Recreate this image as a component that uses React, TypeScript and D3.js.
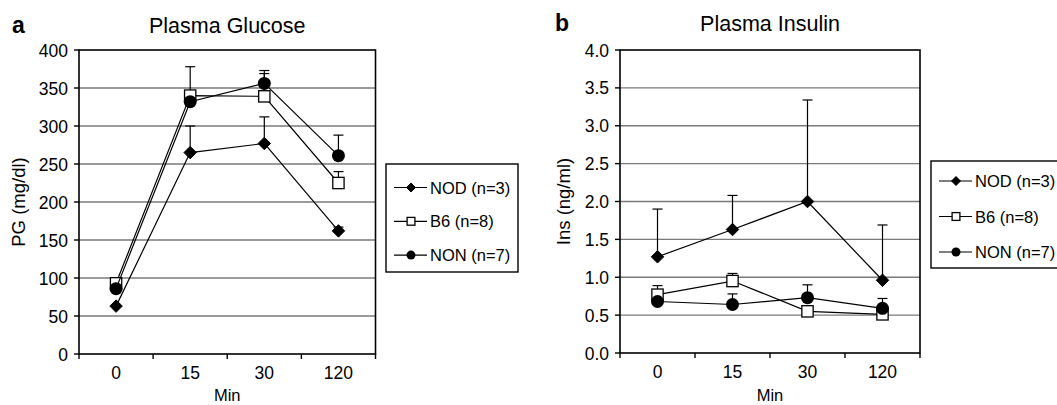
import React from "react";
import * as d3 from "d3";

const categories = ["0", "15", "30", "120"];

const glucoseNOD = [63, 265, 277, 162];
const glucoseNODUpper = [null, 300, 312, 167];
const glucoseB6 = [93, 340, 339, 225];
const glucoseB6Upper = [null, 378, 369, 240];
const glucoseNON = [86, 332, 356, 261];
const glucoseNONUpper = [null, null, 373, 288];
const glucoseTicks = [0, 50, 100, 150, 200, 250, 300, 350, 400];

const insulinNOD = [1.27, 1.63, 2.0, 0.96];
const insulinNODUpper = [1.9, 2.08, 3.34, 1.69];
const insulinB6 = [0.77, 0.95, 0.55, 0.51];
const insulinB6Upper = [0.89, 1.05, null, null];
const insulinNON = [0.68, 0.64, 0.73, 0.59];
const insulinNONUpper = [null, 0.78, 0.9, 0.72];
const insulinTicks = [0, 0.5, 1.0, 1.5, 2.0, 2.5, 3.0, 3.5, 4.0];

const seriesNames = ["NOD (n=3)", "B6 (n=8)", "NON (n=7)"];
const markerTypes = ["diamond", "square", "circle"];

const FONT = "'Liberation Sans', Arial, Helvetica, sans-serif";

type Series = { values: number[]; upper: (number | null)[]; marker: string };

function Marker({ type, x, y, s }: { type: string; x: number; y: number; s: number }) {
  if (type === "diamond") {
    const h = s / 2;
    return (
      <path
        d={`M${x},${y - h} L${x + h},${y} L${x},${y + h} L${x - h},${y} Z`}
        fill="#000"
        stroke="#000"
        strokeWidth={1}
      />
    );
  }
  if (type === "square") {
    const h = s / 2 - 0.6;
    return <rect x={x - h} y={y - h} width={2 * h} height={2 * h} fill="#fff" stroke="#000" strokeWidth={1.3} />;
  }
  return <circle cx={x} cy={y} r={s / 2} fill="#000" />;
}

function Panel(props: {
  letter: string;
  letterX: number;
  title: string;
  titleY: number;
  yLabel: string;
  yLabelX: number;
  x0: number;
  x1: number;
  yTop: number;
  yBot: number;
  yMax: number;
  ticks: number[];
  fmt: (v: number) => string;
  series: Series[];
  legendX: number;
  legendY: number;
  legendW: number;
  legendH: number;
  legendOffset: number;
  legendStep: number;
}) {
  const { x0, x1, yTop, yBot } = props;
  const x = d3.scaleBand<string>().domain(categories).range([x0, x1]).padding(0);
  const y = d3.scaleLinear().domain([0, props.yMax]).range([yBot, yTop]);
  const cx = (c: string) => (x(c) as number) + x.bandwidth() / 2;
  const line = d3
    .line<number>()
    .x((_, i) => cx(categories[i]))
    .y((d) => y(d));
  const boundaries = categories.map((c) => x(c) as number).concat([x1]);

  return (
    <g>
      <text x={props.letterX} y={props.titleY} fontFamily={FONT} fontWeight="bold" fontSize={23} fill="#000">
        {props.letter}
      </text>
      <text x={(x0 + x1) / 2} y={props.titleY} textAnchor="middle" fontFamily={FONT} fontSize={21.5} fill="#000">
        {props.title}
      </text>
      {/* gridlines */}
      {props.ticks
        .filter((t) => t > 0 && t < props.yMax)
        .map((t) => (
          <line key={"g" + t} x1={x0} x2={x1} y1={y(t)} y2={y(t)} stroke="#7a7a7a" strokeWidth={1.4} />
        ))}
      {/* y ticks */}
      {props.ticks.map((t) => (
        <g key={"t" + t}>
          <line x1={x0 - 5} x2={x0} y1={y(t)} y2={y(t)} stroke="#000" strokeWidth={1.4} />
          <text x={x0 - 11} y={y(t) + 6.5} textAnchor="end" fontFamily={FONT} fontSize={17.5} fill="#000">
            {props.fmt(t)}
          </text>
        </g>
      ))}
      {/* x ticks */}
      {boundaries.map((b, i) => (
        <line key={"xb" + i} x1={b} x2={b} y1={yBot} y2={yBot + 5} stroke="#000" strokeWidth={1.4} />
      ))}
      {categories.map((c) => (
        <text key={"xl" + c} x={cx(c)} y={yBot + 25} textAnchor="middle" fontFamily={FONT} fontSize={17.5} fill="#000">
          {c}
        </text>
      ))}
      <text x={(x0 + x1) / 2} y={401} textAnchor="middle" fontFamily={FONT} fontSize={16.5} fill="#000">
        Min
      </text>
      <text
        transform={`translate(${props.yLabelX},${(yTop + yBot) / 2}) rotate(-90)`}
        textAnchor="middle"
        fontFamily={FONT}
        fontSize={18.5}
        fill="#000"
      >
        {props.yLabel}
      </text>
      {/* frame */}
      <rect x={x0} y={yTop} width={x1 - x0} height={yBot - yTop} fill="none" stroke="#000" strokeWidth={1.6} />
      {/* series */}
      {props.series.map((s, si) => (
        <g key={"s" + si}>
          {s.upper.map((u, i) =>
            u == null ? null : (
              <g key={"e" + i}>
                <line x1={cx(categories[i])} x2={cx(categories[i])} y1={y(s.values[i])} y2={y(u)} stroke="#000" strokeWidth={1.2} />
                <line x1={cx(categories[i]) - 5} x2={cx(categories[i]) + 5} y1={y(u)} y2={y(u)} stroke="#000" strokeWidth={1.2} />
              </g>
            )
          )}
          <path d={line(s.values) || ""} fill="none" stroke="#000" strokeWidth={1.2} />
          {s.values.map((v, i) => (
            <Marker key={"m" + i} type={s.marker} x={cx(categories[i])} y={y(v)} s={s.marker === "circle" ? 13 : 12.5} />
          ))}
        </g>
      ))}
      {/* legend */}
      <rect
        x={props.legendX}
        y={props.legendY}
        width={props.legendW}
        height={props.legendH}
        fill="#fff"
        stroke="#000"
        strokeWidth={1.4}
      />
      {seriesNames.map((n, i) => {
        const ly = props.legendY + props.legendOffset + i * props.legendStep;
        const lx = props.legendX;
        return (
          <g key={"l" + i}>
            <line x1={lx + 8} x2={lx + 41} y1={ly} y2={ly} stroke="#000" strokeWidth={1.2} />
            <Marker type={markerTypes[i]} x={lx + 25} y={ly} s={9} />
            <text x={lx + 44} y={ly + 6} fontFamily={FONT} fontSize={16.5} fill="#000">
              {n}
            </text>
          </g>
        );
      })}
    </g>
  );
}

export default function App() {
  const gSeries: Series[] = [
    { values: glucoseNOD, upper: glucoseNODUpper, marker: markerTypes[0] },
    { values: glucoseB6, upper: glucoseB6Upper, marker: markerTypes[1] },
    { values: glucoseNON, upper: glucoseNONUpper, marker: markerTypes[2] },
  ];
  const iSeries: Series[] = [
    { values: insulinNOD, upper: insulinNODUpper, marker: markerTypes[0] },
    { values: insulinB6, upper: insulinB6Upper, marker: markerTypes[1] },
    { values: insulinNON, upper: insulinNONUpper, marker: markerTypes[2] },
  ];
  return (
    <svg
      width={1057}
      height={405}
      style={{ position: "absolute", left: 0, top: 0, background: "#fff" }}
    >
      <rect x={0} y={0} width={1057} height={405} fill="#fff" />
      <Panel
        letter="a"
        letterX={12}
        title="Plasma Glucose"
        titleY={33}
        yLabel="PG (mg/dl)"
        yLabelX={25}
        x0={79}
        x1={375.5}
        yTop={50}
        yBot={354}
        yMax={400}
        ticks={glucoseTicks}
        fmt={(v) => String(v)}
        series={gSeries}
        legendX={386}
        legendY={164}
        legendW={132}
        legendH={108}
        legendOffset={23.5}
        legendStep={33.8}
      />
      <Panel
        letter="b"
        letterX={555}
        title="Plasma Insulin"
        titleY={30.5}
        yLabel="Ins (ng/ml)"
        yLabelX={569.5}
        x0={620}
        x1={920}
        yTop={50}
        yBot={353}
        yMax={4}
        ticks={insulinTicks}
        fmt={(v) => v.toFixed(1)}
        series={iSeries}
        legendX={931}
        legendY={161}
        legendW={132}
        legendH={107}
        legendOffset={20}
        legendStep={35.5}
      />
    </svg>
  );
}
